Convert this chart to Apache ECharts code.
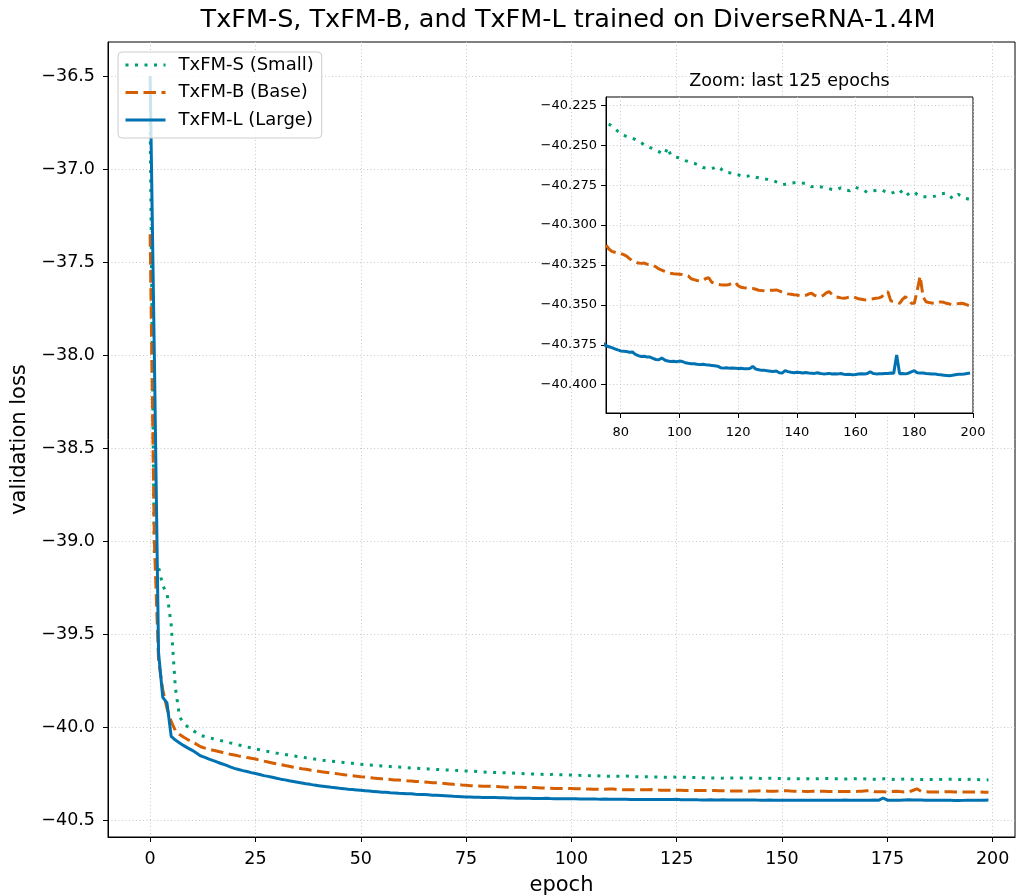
<!DOCTYPE html>
<html>
<head>
<meta charset="utf-8">
<title>TxFM validation loss</title>
<script src="https://cdn.jsdelivr.net/npm/echarts@6/dist/echarts.min.js"></script>
<style>
  html, body { margin: 0; padding: 0; background: #fff; }
  #chart { width: 1018px; height: 896px; }
</style>
</head>
<body>
<div id="chart"></div>
<script>
// validation loss per epoch (index = epoch)
const lossSmall = [
  -36.75, -39.08, -39.14, -39.24, -39.28, -39.45, -39.79, -39.946, -39.98, -40.0,
  -40.016, -40.03, -40.045, -40.051, -40.057, -40.063, -40.068, -40.074, -40.079, -40.085,
  -40.09, -40.096, -40.101, -40.107, -40.112, -40.118, -40.122, -40.127, -40.131, -40.136,
  -40.14, -40.144, -40.147, -40.151, -40.154, -40.158, -40.161, -40.165, -40.168, -40.172,
  -40.175, -40.178, -40.18, -40.183, -40.185, -40.188, -40.19, -40.193, -40.195, -40.198,
  -40.2, -40.202, -40.204, -40.205, -40.207, -40.209, -40.211, -40.212, -40.214, -40.215,
  -40.217, -40.218, -40.22, -40.221, -40.223, -40.224, -40.225, -40.226, -40.228, -40.229,
  -40.23, -40.231, -40.232, -40.234, -40.235, -40.236, -40.2368, -40.238, -40.2396, -40.2412,
  -40.2425, -40.2438, -40.2445, -40.245, -40.2455, -40.2465, -40.2475, -40.2485, -40.2497, -40.2508,
  -40.2515, -40.2522, -40.253, -40.254, -40.255, -40.2556, -40.2514, -40.256, -40.257, -40.2575,
  -40.258, -40.2588, -40.2596, -40.2602, -40.2608, -40.2613, -40.262, -40.263, -40.264, -40.2643,
  -40.2646, -40.2647, -40.264, -40.2632, -40.2645, -40.2665, -40.267, -40.2672, -40.2676, -40.268,
  -40.2685, -40.2692, -40.2698, -40.2695, -40.269, -40.2692, -40.27, -40.2704, -40.2707, -40.2711,
  -40.2714, -40.2718, -40.2722, -40.273, -40.274, -40.2746, -40.2744, -40.274, -40.2737, -40.2735,
  -40.2733, -40.2733, -40.2737, -40.274, -40.275, -40.276, -40.2758, -40.2756, -40.276, -40.2765,
  -40.2769, -40.2772, -40.2777, -40.278, -40.2775, -40.2767, -40.2775, -40.2782, -40.2785, -40.277,
  -40.2764, -40.277, -40.2775, -40.2785, -40.2795, -40.279, -40.2785, -40.2783, -40.2781, -40.278,
  -40.279, -40.2798, -40.2802, -40.2795, -40.2784, -40.278, -40.28, -40.2819, -40.2805, -40.2795,
  -40.2792, -40.281, -40.2819, -40.2822, -40.2823, -40.2823, -40.2821, -40.2819, -40.2812, -40.2805,
  -40.2802, -40.28, -40.2815, -40.2833, -40.2815, -40.2808, -40.2818, -40.283, -40.2835, -40.284
];
const lossBase = [
  -37.35, -39.0, -39.64, -39.8, -39.9, -39.97, -40.02, -40.04, -40.055, -40.068,
  -40.08, -40.092, -40.106, -40.113, -40.119, -40.125, -40.13, -40.135, -40.14, -40.146,
  -40.15, -40.155, -40.159, -40.164, -40.168, -40.172, -40.178, -40.183, -40.188, -40.193,
  -40.198, -40.202, -40.207, -40.211, -40.216, -40.22, -40.224, -40.227, -40.231, -40.234,
  -40.238, -40.241, -40.244, -40.247, -40.25, -40.253, -40.256, -40.259, -40.262, -40.264,
  -40.267, -40.269, -40.271, -40.274, -40.276, -40.278, -40.28, -40.282, -40.284, -40.285,
  -40.287, -40.289, -40.29, -40.292, -40.293, -40.295, -40.297, -40.299, -40.3, -40.302,
  -40.304, -40.306, -40.308, -40.309, -40.311, -40.3125, -40.315, -40.3165, -40.317, -40.3175,
  -40.3178, -40.3185, -40.3194, -40.321, -40.3225, -40.323, -40.3238, -40.324, -40.3238, -40.3245,
  -40.3248, -40.3252, -40.3262, -40.3275, -40.3282, -40.329, -40.3298, -40.3302, -40.3305, -40.3306,
  -40.3308, -40.331, -40.3313, -40.3318, -40.3336, -40.3342, -40.3347, -40.335, -40.3348, -40.3335,
  -40.333, -40.3358, -40.3365, -40.3371, -40.3374, -40.3375, -40.3376, -40.3372, -40.3365, -40.3358,
  -40.338, -40.339, -40.3393, -40.3395, -40.3396, -40.3397, -40.3402, -40.3408, -40.341, -40.3411,
  -40.341, -40.3409, -40.3408, -40.3406, -40.3412, -40.342, -40.3426, -40.3431, -40.3433, -40.3436,
  -40.3438, -40.3442, -40.3444, -40.344, -40.3432, -40.3427, -40.344, -40.3446, -40.3448, -40.344,
  -40.3425, -40.3417, -40.3435, -40.3448, -40.3452, -40.3456, -40.3458, -40.3455, -40.345, -40.3448,
  -40.3455, -40.3462, -40.3465, -40.3468, -40.3469, -40.3466, -40.3462, -40.3459, -40.3456, -40.3448,
  -40.3425, -40.3417, -40.3475, -40.348, -40.3483, -40.349, -40.3465, -40.3448, -40.347, -40.349,
  -40.349, -40.341, -40.332, -40.345, -40.348, -40.3485, -40.3488, -40.349, -40.3486, -40.3481,
  -40.3484, -40.349, -40.3494, -40.3497, -40.3495, -40.3492, -40.349, -40.3493, -40.35, -40.3506
];
const lossLarge = [
  -36.5, -38.0, -39.6, -39.84, -39.87, -40.05, -40.07, -40.085, -40.1, -40.113,
  -40.125, -40.14, -40.155, -40.163, -40.172, -40.18, -40.189, -40.197, -40.205, -40.214,
  -40.222, -40.228, -40.234, -40.239, -40.245, -40.25, -40.255, -40.261, -40.265, -40.27,
  -40.275, -40.28, -40.284, -40.289, -40.293, -40.297, -40.301, -40.305, -40.308, -40.312,
  -40.315, -40.318, -40.321, -40.324, -40.326, -40.329, -40.331, -40.334, -40.336, -40.338,
  -40.34, -40.342, -40.344, -40.346, -40.348, -40.35, -40.351, -40.353, -40.354, -40.356,
  -40.357, -40.358, -40.359, -40.361, -40.362, -40.363, -40.364, -40.366, -40.367, -40.368,
  -40.369, -40.37, -40.372, -40.373, -40.374, -40.3756, -40.3762, -40.3768, -40.3775, -40.3782,
  -40.3788, -40.379, -40.3792, -40.3796, -40.3795, -40.381, -40.3818, -40.3823, -40.3822, -40.3826,
  -40.3827, -40.3835, -40.3842, -40.3844, -40.3833, -40.3845, -40.3852, -40.3854, -40.3853, -40.3856,
  -40.3852, -40.3855, -40.3862, -40.3866, -40.3869, -40.3868, -40.3872, -40.3874, -40.3872, -40.3875,
  -40.3877, -40.3879, -40.3881, -40.3884, -40.3893, -40.3896, -40.3894, -40.3896, -40.3895, -40.3896,
  -40.3898, -40.3897, -40.39, -40.39, -40.3898, -40.3885, -40.3902, -40.3906, -40.391, -40.391,
  -40.3913, -40.3915, -40.3917, -40.3914, -40.3925, -40.3927, -40.3912, -40.3918, -40.3922, -40.3925,
  -40.3922, -40.3923, -40.3926, -40.3924, -40.3927, -40.3928, -40.3929, -40.3925, -40.393, -40.3932,
  -40.3931, -40.3929, -40.3933, -40.3931, -40.3932, -40.393, -40.3934, -40.3936, -40.3935, -40.3938,
  -40.3936, -40.3933, -40.3931, -40.3933, -40.393, -40.3918, -40.393, -40.3932, -40.3931, -40.3931,
  -40.3929, -40.393, -40.3927, -40.3928, -40.3813, -40.3931, -40.393, -40.3932, -40.3928, -40.392,
  -40.3912, -40.3925, -40.3927, -40.3926, -40.393, -40.3931, -40.3933, -40.3932, -40.3936, -40.3938,
  -40.394, -40.3942, -40.3944, -40.3941, -40.3937, -40.3934, -40.3935, -40.3933, -40.393, -40.3927
];

const seriesNames = ['TxFM-S (Small)', 'TxFM-B (Base)', 'TxFM-L (Large)'];
const seriesColors = ['#009E73', '#D55E00', '#0072B2'];
const seriesDash = [[3, 6.5], [12.5, 5.5], 'solid'];

const mainXTicks = [0, 25, 50, 75, 100, 125, 150, 175, 200];
const mainYTicks = [-40.5, -40.0, -39.5, -39.0, -38.5, -38.0, -37.5, -37.0, -36.5];
const zoomXTicks = [80, 100, 120, 140, 160, 180, 200];
const zoomYTicks = [-40.4, -40.375, -40.35, -40.325, -40.3, -40.275, -40.25, -40.225];

const FONT = 'DejaVu Sans';

// matplotlib style labels with a real minus sign
function minusFmt(digits) {
  return v => (v < 0 ? '\u2212' : '') + Math.abs(v).toFixed(digits);
}

function axis(gridIndex, min, max, ticks, fontSize, margin, fmt, extra) {
  return Object.assign({
    type: 'value',
    gridIndex: gridIndex,
    min: min,
    max: max,
    axisLine: { show: true, onZero: false, lineStyle: { color: '#000', width: 1 } },
    axisTick: { show: true, inside: false, length: 5, customValues: ticks, lineStyle: { color: '#000', width: 1 } },
    axisLabel: {
      customValues: ticks, fontSize: fontSize, color: '#000', fontFamily: FONT,
      margin: margin, formatter: fmt
    },
    splitLine: { show: true, lineStyle: { color: '#c9c9c9', type: [1, 2.5], width: 1 } }
  }, extra);
}

const lossData = [lossSmall, lossBase, lossLarge];

function makeSeries(axisIndex, z) {
  return lossData.map((arr, k) => ({
    name: seriesNames[k],
    type: 'line',
    xAxisIndex: axisIndex,
    yAxisIndex: axisIndex,
    data: arr.map((v, i) => [i, v]),
    symbol: 'none',
    showSymbol: false,
    clip: true,
    z: z,
    lineStyle: { color: seriesColors[k], width: 3, type: seriesDash[k], cap: 'butt' },
    itemStyle: { color: seriesColors[k] },
    emphasis: { disabled: true }
  }));
}

const chart = echarts.init(document.getElementById('chart'), null, { renderer: 'canvas' });

const option = {
  animation: false,
  backgroundColor: '#fff',
  title: [
    {
      text: 'TxFM-S, TxFM-B, and TxFM-L trained on DiverseRNA-1.4M',
      left: 563, top: 2, textAlign: 'center',
      textStyle: { fontFamily: FONT, fontSize: 25.5, fontWeight: 'normal', color: '#000' }
    },
    {
      text: 'Zoom: last 125 epochs',
      left: 784.5, top: 67, textAlign: 'center',
      textStyle: { fontFamily: FONT, fontSize: 17.5, fontWeight: 'normal', color: '#000' }
    }
  ],
  legend: {
    data: seriesNames,
    orient: 'vertical',
    left: 118, top: 52,
    padding: [3, 8, 8, 6],
    itemWidth: 40, itemHeight: 20, itemGap: 7.5,
    itemStyle: { opacity: 0 },
    lineStyle: { width: 3 },
    backgroundColor: 'rgba(255,255,255,0.8)',
    borderColor: '#cccccc', borderWidth: 1, borderRadius: 4,
    textStyle: { fontFamily: FONT, fontSize: 18, color: '#000', lineHeight: 20, padding: [0, 0, 0, 8] },
    z: 10
  },
  grid: [
    {
      left: 108, top: 42, width: 907, height: 795,
      show: true, borderColor: '#000', borderWidth: 1, backgroundColor: 'transparent',
      outerBoundsMode: 'none', containLabel: false
    },
    {
      left: 606, top: 97, width: 367, height: 316,
      show: true, borderColor: '#000', borderWidth: 1, backgroundColor: '#fff',
      outerBoundsMode: 'none', containLabel: false, z: 5
    }
  ],
  xAxis: [
    axis(0, -10, 205.3, mainXTicks, 17.5, 13, v => String(v), {
      name: 'epoch', nameLocation: 'middle', nameGap: 38,
      nameTextStyle: { fontFamily: FONT, fontSize: 21, color: '#000' }
    }),
    axis(1, 75, 200, zoomXTicks, 13, 13, v => String(v), { z: 6 })
  ],
  yAxis: [
    axis(0, -40.591, -36.317, mainYTicks, 17.5, 13, minusFmt(1), {
      name: 'validation loss', nameLocation: 'middle', nameGap: 75,
      nameTextStyle: { fontFamily: FONT, fontSize: 21, color: '#000' }
    }),
    axis(1, -40.4177, -40.2198, zoomYTicks, 13, 9, minusFmt(3), { z: 6 })
  ],
  series: makeSeries(0, 2).concat(makeSeries(1, 7))
};

chart.setOption(option);
</script>
</body>
</html>
